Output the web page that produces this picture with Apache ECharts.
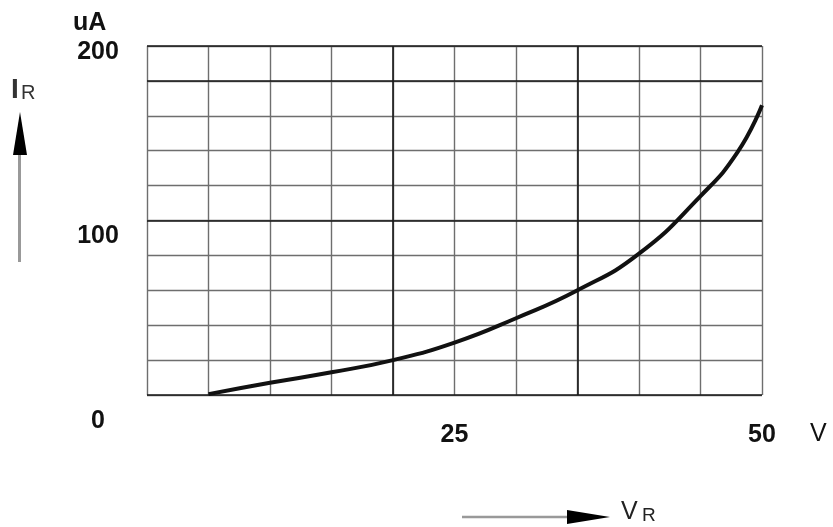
<!DOCTYPE html>
<html>
<head>
<meta charset="utf-8">
<script src="https://cdn.jsdelivr.net/npm/echarts@6/dist/echarts.min.js"></script>
<style>
html,body{margin:0;padding:0;background:#fff;}
#chart{width:833px;height:527px;}
</style>
</head>
<body>
<div id="chart"></div>
<script>
// Data
const voltage = [5, 10, 15, 20, 25, 30, 35, 40, 45, 48, 50];       // V_R (V)
const current = [0.5, 7, 13, 20, 30, 44, 60, 81, 114, 139, 166];  // I_R (uA)
const xTickLabels = [25, 50];          // shown x tick labels
const yTickLabels = [0, 100, 200];     // shown y tick labels
const darkGridX = [20, 35];
const darkGridY = [0, 100, 180, 200];

const seriesData = voltage.map((v, i) => [v, current[i]]);
const FONT = '"Liberation Sans", Arial, sans-serif';

const chart = echarts.init(document.getElementById('chart'), null, {renderer: 'canvas'});

const markLineData = darkGridX.map(v => ({xAxis: v})).concat(darkGridY.map(v => ({yAxis: v})));

chart.setOption({
  animation: false,
  backgroundColor: '#fff',
  grid: [
    {left: 147, right: 71, top: 46, bottom: 132},
    {left: 150, right: 69, top: 52, bottom: 106}
  ],
  xAxis: [
    {
      gridIndex: 0, type: 'value', min: 0, max: 50, interval: 5,
      axisLine: {show: false}, axisTick: {show: false},
      axisLabel: {
        show: true, margin: 28, fontFamily: FONT, fontSize: 25, fontWeight: 'bold', color: '#111',
        formatter: v => (xTickLabels.indexOf(v) >= 0 ? String(v) : '')
      },
      splitLine: {show: true, lineStyle: {color: '#6e6e6e', width: 1.4}}
    },
    {
      gridIndex: 1, type: 'value', min: 0, max: 50, show: false
    }
  ],
  yAxis: [
    {
      gridIndex: 0, type: 'value', min: 0, max: 200, interval: 20,
      axisLine: {show: false}, axisTick: {show: false}, axisLabel: {show: false},
      splitLine: {show: true, lineStyle: {color: '#6e6e6e', width: 1.4}}
    },
    {
      gridIndex: 1, type: 'value', min: 0, max: 200, interval: 100,
      axisLine: {show: false}, axisTick: {show: false}, splitLine: {show: false},
      axisLabel: {
        show: true, margin: 52, align: 'center', fontFamily: FONT, fontSize: 25, fontWeight: 'bold', color: '#111',
        formatter: v => (yTickLabels.indexOf(v) >= 0 ? String(v) : '')
      }
    }
  ],
  series: [
    {
      type: 'line', xAxisIndex: 0, yAxisIndex: 0,
      data: seriesData, smooth: 0.5, symbol: 'none',
      lineStyle: {color: '#111', width: 4},
      markLine: {
        silent: true, symbol: ['none', 'none'], label: {show: false},
        lineStyle: {color: '#1a1a1a', width: 1.6, type: 'solid'},
        data: markLineData
      },
      z: 5
    }
  ],
  graphic: [
    {type: 'text', left: 73, top: 11, style: {text: 'uA', font: 'bold 25px ' + FONT, fill: '#111'}},
    {type: 'text', left: 810, top: 422, style: {text: 'V', font: '25px ' + FONT, fill: '#111'}},
    // I_R label + vertical arrow
    {type: 'text', left: 11, top: 76, style: {text: 'I', font: 'bold 28px ' + FONT, fill: '#333'}},
    {type: 'text', left: 21, top: 83, style: {text: 'R', font: '20px ' + FONT, fill: '#333'}},
    {type: 'line', shape: {x1: 19.5, y1: 150, x2: 19.5, y2: 262}, style: {stroke: '#999', lineWidth: 3}},
    {type: 'polygon', shape: {points: [[20, 112], [13, 155], [27, 155]]}, style: {fill: '#000'}},
    // V_R label + horizontal arrow
    {type: 'line', shape: {x1: 462, y1: 517, x2: 572, y2: 517}, style: {stroke: '#999', lineWidth: 2.5}},
    {type: 'polygon', shape: {points: [[610, 517], [567, 510], [567, 524]]}, style: {fill: '#000'}},
    {type: 'text', left: 621, top: 500, style: {text: 'V', font: '25px ' + FONT, fill: '#222'}},
    {type: 'text', left: 642, top: 506, style: {text: 'R', font: '19px ' + FONT, fill: '#222'}}
  ]
});
</script>
</body>
</html>
